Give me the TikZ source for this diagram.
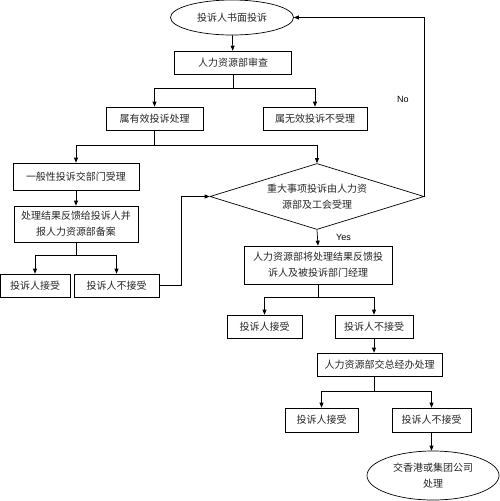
\documentclass[tikz,border=0pt]{standalone}
\usepackage{fontspec}
\setmainfont{Noto Sans CJK SC}
\newfontfamily\latinsans{Liberation Sans}
\usetikzlibrary{arrows.meta,positioning,calc,shapes.geometric}

\begin{document}
\begin{tikzpicture}[x=1pt, y=-1pt, line width=0.7pt,
    box/.style={draw, inner sep=0pt, minimum height=23pt, align=center,
                font=\fontsize{10}{16}\selectfont, text=black!85},
    oval/.style={draw, ellipse, inner sep=0pt, align=center,
                 font=\fontsize{10}{16}\selectfont, text=black!85},
    arr/.style={-{Triangle[length=5pt,width=4pt]}},
    lbl/.style={font=\latinsans\fontsize{9}{11}\selectfont}]
    \useasboundingbox (0,0) rectangle (500,501);
    % top part
    \node[oval, minimum width=123pt, minimum height=35pt] (start) at (232,17.5) {投诉人书面投诉};
    \node[box, minimum width=117pt] (rev) at (233,62.5) {人力资源部审查};
    \node[box, minimum width=97pt] (valid) at (154.5,118.5) {属有效投诉处理};
    \node[box, minimum width=104pt] (invalid) at (315,118.5) {属无效投诉不受理};
    % general complaints
    \node[box, minimum width=126pt, minimum height=27pt] (general) at (76,176.5) {一般性投诉交部门受理};
    \node[box, minimum width=124pt, minimum height=36pt] (feed) at (76,224) {处理结果反馈给投诉人并\\报人力资源部备案};
    \node[box, minimum width=70pt] (acc1) at (35,285.5) {投诉人接受};
    \node[box, minimum width=85pt] (rej1) at (116.5,285.5) {投诉人不接受};
    % major complaints
    \node[draw, diamond, aspect=3.24, minimum width=214pt, minimum height=66pt, inner sep=0pt,
          align=center, font=\fontsize{10}{16}\selectfont, text=black!85] (major) at (317,196.5)
         {重大事项投诉由人力资\\源部及工会受理};
    \node[box, minimum width=148pt, minimum height=38pt] (hrfb) at (318,265) {人力资源部将处理结果反馈投\\诉人及被投诉部门经理};
    \node[box, minimum width=75pt] (acc2) at (264.5,326.5) {投诉人接受};
    \node[box, minimum width=78pt] (rej2) at (374,326.5) {投诉人不接受};
    \node[box, minimum width=125pt] (gm) at (379.5,364.5) {人力资源部交总经办处理};
    \node[box, minimum width=73pt, minimum height=24pt] (acc3) at (321.5,420) {投诉人接受};
    \node[box, minimum width=79pt, minimum height=24pt] (rej3) at (431.5,420) {投诉人不接受};
    \node[oval, minimum width=132pt, minimum height=49pt] (hq) at (433,475.5) {交香港或集团公司\\处理};

    % connectors
    \draw[arr] (start) -- (rev);
    \draw (rev.south) -- ++(0,13.5) coordinate (j1);
    \draw[arr] (j1) -| (valid.north);
    \draw[arr] (j1) -| (invalid.north);
    \draw (valid.south) -- ++(0,15) coordinate (j2);
    \draw[arr] (j2) -| (general.north);
    \draw[arr] (j2) -| (major.north);
    \draw[arr] (general) -- (feed);
    \draw (feed.south) -- ++(0,13) coordinate (j3);
    \draw[arr] (j3) -| (acc1.north);
    \draw[arr] (j3) -| (rej1.north);
    \draw[arr] (rej1.east) -- ++(22,0) |- (major.west);
    \draw[arr] (major.east) |- (start.east) node[lbl, pos=0.27, left=12pt] {No};
    \draw[arr] (major.south) -- (hrfb.north) node[lbl, midway, right=15pt] {Yes};
    \draw (hrfb.south) -- ++(0,12.5) coordinate (j4);
    \draw[arr] (j4) -| (acc2.north);
    \draw[arr] (j4) -| (rej2.north);
    \draw[arr] (rej2.south) -- (rej2.south |- gm.north);
    \draw (rej2.south |- gm.south) -- ++(0,15) coordinate (j5);
    \draw[arr] (j5) -| (acc3.north);
    \draw[arr] (j5) -| (rej3.north);
    \draw[arr] (rej3.south) -- (rej3.south |- hq.north);
\end{tikzpicture}
\end{document}
